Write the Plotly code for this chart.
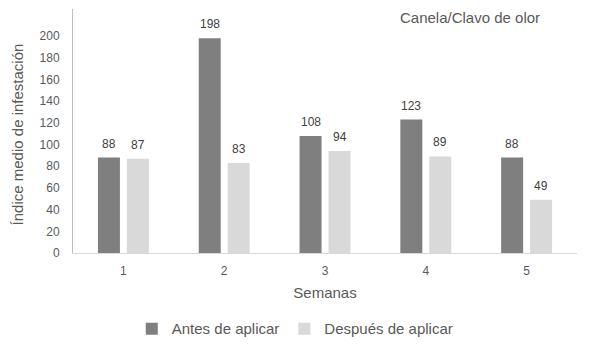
import plotly.graph_objects as go

semanas = ["1", "2", "3", "4", "5"]
antes = [88, 198, 108, 123, 88]
despues = [87, 83, 94, 89, 49]
serie_antes = "Antes de aplicar"
serie_despues = "Después de aplicar"
y_ticks = [0, 20, 40, 60, 80, 100, 120, 140, 160, 180, 200]

fig = go.Figure()
fig.add_trace(go.Bar(x=semanas, y=antes, name=serie_antes,
                     marker=dict(color="#7f7f7f", line=dict(width=0))))
fig.add_trace(go.Bar(x=semanas, y=despues, name=serie_despues,
                     marker=dict(color="#d9d9d9", line=dict(width=0))))

annotations = []
for vals, shift in ((antes, -14.5), (despues, 14.5)):
    for i, v in enumerate(vals):
        annotations.append(dict(x=i, y=v, text=str(v), showarrow=False,
                                xshift=shift, yshift=5, yanchor="bottom",
                                font=dict(size=12, color="#404040",
                                          family="Liberation Sans, Arial")))
annotations.append(dict(xref="paper", yref="paper", x=0.645, y=1.0,
                        xanchor="left", yanchor="top", yshift=2,
                        text="Canela/Clavo de olor", showarrow=False,
                        font=dict(size=15, color="#595959",
                                  family="Liberation Sans, Arial")))
annotations.append(dict(xref="paper", yref="paper", x=0, y=0.486,
                        xshift=-56, textangle=-90, xanchor="center",
                        yanchor="middle",
                        text="Índice medio de infestación", showarrow=False,
                        font=dict(size=15, color="#595959",
                                  family="Liberation Sans, Arial")))

fig.update_layout(
    width=581, height=342,
    margin=dict(l=65, r=12, t=1, b=97, autoexpand=False),
    paper_bgcolor="white", plot_bgcolor="white",
    bargap=0.426, bargroupgap=0.24,
    font=dict(family="Liberation Sans, Arial", color="#595959"),
    showlegend=True,
    legend=dict(orientation="h", x=0.44, y=-0.311, xanchor="center",
                yanchor="middle", font=dict(size=15, color="#595959"),
                itemwidth=30, traceorder="normal"),
    annotations=annotations,
    xaxis=dict(type="category", showgrid=False, showline=True,
               linecolor="#d9d9d9", linewidth=1, ticks="",
               ticklabelstandoff=7,
               tickfont=dict(size=12, color="#595959"),
               title=dict(text="Semanas", font=dict(size=15, color="#595959"),
                          standoff=10)),
    yaxis=dict(range=[0, 225], showgrid=False, showline=True,
               linecolor="#bfbfbf", linewidth=1, tickvals=y_ticks,
               ticks="", ticklabelstandoff=10,
               tickfont=dict(size=12, color="#595959"), zeroline=False),
)

fig.write_html("out.html")
